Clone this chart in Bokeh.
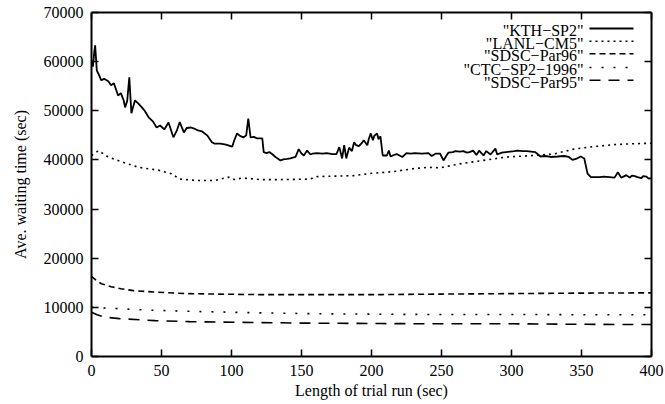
from bokeh.plotting import figure
from bokeh.models import Range1d, FixedTicker, LinearAxis, Label, BasicTickFormatter
from bokeh.embed import file_html
from bokeh.resources import INLINE

# ---------------- data ----------------
kth_x = [0, 1, 2, 2.6, 3.8, 5, 7, 9, 12, 14, 16, 19, 21, 23, 24, 25.5, 27, 28.5, 31, 33,
         36, 38, 41, 44, 46.5, 49, 52, 55, 58.5, 61, 63, 66, 68, 71, 74, 76, 79, 82.6, 86, 88,
         92, 96, 100.5, 102, 104, 106, 108.6, 110.5, 112, 113.6, 116, 118, 122, 123, 125, 127,
         129, 131.4, 133, 135, 137, 139.8, 142, 145.7, 148, 150, 151.7, 154, 156.4, 158, 161,
         165, 168, 172, 175, 177, 179, 180.5, 182, 184, 186, 187.6, 189, 191, 193, 194.5, 197,
         198, 199.5, 201, 202, 204, 205, 206.4, 208, 211, 212.4, 213.6, 216, 218, 220, 222, 225,
         228, 231, 236, 240.7, 243, 246, 249, 251.4, 253.8, 255, 258, 260, 263, 265.7, 268, 270,
         272.6, 275, 276.9, 280, 282, 285, 288.5, 289.8, 293, 296, 299, 302, 304, 308, 311, 314,
         317, 319, 320.7, 324, 328, 333, 337.6, 341, 343.5, 346, 349.5, 352, 354.3, 356.7, 360,
         363, 366, 370, 373.6, 376, 378.3, 380, 382, 384.5, 386, 388, 390, 392.8, 394, 396.4,
         398, 400]
kth_y = [60200, 59000, 62000, 63300, 58200, 57500, 56200, 56500, 56000, 55200, 55600, 53100,
         53600, 52100, 50700, 52000, 56800, 49500, 52100, 51600, 50700, 50000, 48600, 47800,
         46600, 47000, 46200, 47600, 44600, 46000, 47700, 45600, 46500, 46600, 46300, 46000,
         45800, 45000, 43600, 43300, 43300, 43100, 42700, 44000, 45400, 44900, 44600, 45000,
         48400, 44600, 44700, 44400, 44400, 41600, 41400, 41600, 41200, 40600, 40300, 39900,
         40100, 40200, 40300, 40600, 42200, 41300, 40900, 41900, 41100, 41300, 41400, 41300,
         41400, 41200, 41200, 42600, 40300, 43000, 40300, 42500, 41800, 43600, 43000, 42800,
         43400, 44000, 43000, 44200, 45400, 44000, 44900, 45400, 44200, 44800, 40900, 40900,
         41900, 40700, 41000, 41200, 40900, 40600, 41400, 41300, 41400, 41300, 41400, 40800,
         41300, 41300, 39900, 41000, 41500, 41600, 41800, 41700, 41800, 41500, 41600, 41900,
         41000, 41900, 40900, 41800, 41100, 42300, 41100, 41500, 41600, 41700, 41800, 41900,
         41800, 41800, 41700, 41600, 41100, 40700, 40800, 40600, 40700, 40800, 40600, 40000,
         40200, 40700, 40300, 37200, 36500, 36500, 36500, 36600, 36500, 36400, 37500, 36400,
         36600, 36900, 36400, 36800, 36700, 36500, 36300, 36700, 36600, 36200, 36300]

lanl_x = [0, 5, 12, 21.6, 33.6, 48, 57, 63, 76, 88, 98, 102, 107, 113.6, 120.5, 135, 156,
          161, 173, 187, 201, 215, 229.5, 241, 249, 263, 275, 296.7, 315.7, 330, 344.6,
          358.6, 373, 387, 400]
lanl_y = [40900, 41900, 40600, 39600, 38500, 37900, 37200, 36100, 35800, 35800, 36500, 36000,
          36300, 36200, 36000, 36000, 36100, 36600, 36700, 36800, 37300, 37600, 38200, 38500,
          38400, 39200, 39700, 40600, 40900, 41200, 42200, 42700, 43100, 43300, 43400]

par96_x = [0, 3, 7, 14, 21, 30, 45.5, 60, 69, 90, 117, 160, 207, 250, 300, 350, 400]
par96_y = [16300, 15600, 14800, 14200, 13800, 13400, 13100, 12900, 12800, 12700, 12600,
           12600, 12600, 12700, 12800, 12900, 12950]

ctc_x = [0, 10, 21, 40, 69, 117, 160, 207, 250, 301, 350, 400]
ctc_y = [10000, 9850, 9700, 9450, 9200, 8900, 8700, 8600, 8550, 8550, 8500, 8500]

par95_x = [0, 4, 9.5, 20, 45.5, 70, 93, 150, 207, 250, 301, 350, 400]
par95_y = [9000, 8500, 8000, 7700, 7300, 7100, 7000, 6800, 6700, 6650, 6650, 6550, 6500]

series_names = ['"KTH\u2212SP2"', '"LANL\u2212CM5"', '"SDSC\u2212Par96"',
                '"CTC\u2212SP2\u22121996"', '"SDSC\u2212Par95"']
x_ticks = [0, 50, 100, 150, 200, 250, 300, 350, 400]
y_ticks = [0, 10000, 20000, 30000, 40000, 50000, 60000, 70000]

# ---------------- figure ----------------
FONT = "Liberation Serif"
FS = "16px"

p = figure(width=665, height=404, x_range=Range1d(0, 400), y_range=Range1d(0, 70000),
           output_backend="svg", toolbar_location=None,
           min_border_left=91, min_border_right=14, min_border_top=12, min_border_bottom=48)
p.xgrid.visible = False
p.ygrid.visible = False
p.outline_line_color = None
p.background_fill_color = "white"
p.border_fill_color = "white"

def style_axis(ax, ticks):
    ax.ticker = FixedTicker(ticks=ticks)
    ax.major_tick_in = 7
    ax.major_tick_out = 0
    ax.minor_tick_line_color = None
    ax.axis_line_width = 2
    ax.major_tick_line_width = 1.5
    ax.major_label_text_font = FONT
    ax.major_label_text_font_size = FS
    ax.major_label_text_color = "black"
    ax.axis_label_text_font = FONT
    ax.axis_label_text_font_size = FS
    ax.axis_label_text_font_style = "normal"
    ax.axis_label_text_color = "black"

style_axis(p.xaxis[0], x_ticks)
style_axis(p.yaxis[0], y_ticks)
p.yaxis[0].formatter = BasicTickFormatter(use_scientific=False)
p.xaxis[0].major_label_standoff = 8
p.yaxis[0].major_label_standoff = 8
p.xaxis[0].axis_label = "Length of trial run (sec)"
p.yaxis[0].axis_label = "Ave. waiting time (sec)"
p.xaxis[0].axis_label_standoff = 3
p.yaxis[0].axis_label_standoff = 12

# mirrored inward ticks on top and right, without labels
top = LinearAxis()
style_axis(top, x_ticks)
top.major_label_overrides = {t: "" for t in x_ticks}
top.major_label_standoff = 0
p.add_layout(top, "above")
right = LinearAxis()
style_axis(right, y_ticks)
right.major_label_overrides = {t: "" for t in y_ticks}
right.major_label_standoff = 0
p.add_layout(right, "right")

# ---------------- series ----------------
styles = [
    dict(line_width=1.8, line_dash="solid"),
    dict(line_width=1.6, line_dash="2 4"),
    dict(line_width=1.6, line_dash="6 4"),
    dict(line_width=1.6, line_dash="2 10"),
    dict(line_width=1.6, line_dash="11 8"),
]
data = [(kth_x, kth_y), (lanl_x, lanl_y), (par96_x, par96_y), (ctc_x, ctc_y), (par95_x, par95_y)]
for (xs, ys), st in zip(data, styles):
    p.line(xs, ys, line_color="black", **st)

# ---------------- legend (manual, gnuplot style) ----------------
def dx(px):
    return (px - 91) / 560 * 400

def dy(py):
    return (356 - py) / 344 * 70000

rows_py = [30, 42.7, 55.3, 69, 81.7]
for name, py, st in zip(series_names, rows_py, styles):
    p.add_layout(Label(x=dx(583), y=dy(py), text=name, text_align="right",
                       text_baseline="middle", text_font=FONT, text_font_size=FS,
                       text_color="black"))
    p.line([dx(589), dx(633)], [dy(py - 2), dy(py - 2)], line_color="black", **st)

open("out.html", "w").write(file_html(p, INLINE))
